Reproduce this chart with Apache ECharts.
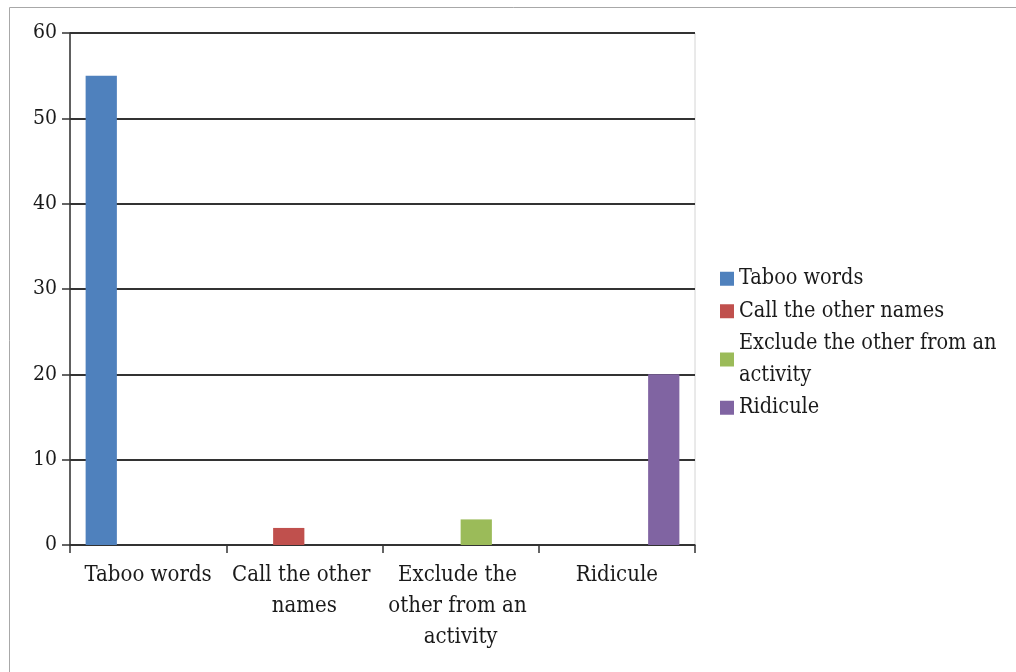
<!DOCTYPE html>
<html>
<head>
<meta charset="utf-8">
<script src="https://cdn.jsdelivr.net/npm/echarts@6/dist/echarts.min.js"></script>
<style>
html,body{margin:0;padding:0;background:#fff;}
#chart{width:1016px;height:672px;}
</style>
</head>
<body>
<div id="chart"></div>
<script>
const categories = ['Taboo words', 'Call the other names', 'Exclude the other from an activity', 'Ridicule'];
const seriesNames = ['Taboo words', 'Call the other names', 'Exclude the other from an activity', 'Ridicule'];
const tabooWords = [55, 0, 0, 0];
const callNames = [0, 2, 0, 0];
const excludeOther = [0, 0, 3, 0];
const ridicule = [0, 0, 0, 20];
const yTicks = [0, 10, 20, 30, 40, 50, 60];
const colors = ['#4F81BD', '#C0504D', '#9BBB59', '#8064A2'];

const FONT = '"DejaVu Serif Condensed", "DejaVu Serif", serif';
const seriesData = [tabooWords, callNames, excludeOther, ridicule];

const chart = echarts.init(document.getElementById('chart'));
chart.setOption({
  animation: false,
  textStyle: {fontFamily: FONT},
  graphic: [{
    type: 'rect',
    shape: {x: 9.5, y: 7.5, width: 1100, height: 800},
    style: {fill: 'none', stroke: '#a8a8a8', lineWidth: 1},
    silent: true
  }],
  grid: {
    left: 70, right: 321, top: 33, bottom: 127,
    show: true, borderColor: '#d4d4d4', borderWidth: 1, backgroundColor: 'transparent'
  },
  legend: {
    orient: 'vertical',
    left: 715,
    top: 258,
    itemWidth: 14,
    itemHeight: 14,
    itemGap: 1,
    icon: 'rect',
    data: seriesNames,
    textStyle: {
      fontFamily: FONT, fontSize: 21.5, color: '#1a1a1a',
      lineHeight: 31.5, width: 300, overflow: 'break'
    }
  },
  xAxis: {
    type: 'category',
    data: categories,
    axisLine: {lineStyle: {color: '#333', width: 1.5}},
    axisTick: {show: true, length: 8, lineStyle: {color: '#333', width: 1.5}},
    axisLabel: {
      fontFamily: FONT, fontSize: 22, color: '#1a1a1a', margin: 15,
      lineHeight: 31, width: 152, overflow: 'break', interval: 0
    }
  },
  yAxis: {
    type: 'value',
    min: yTicks[0], max: yTicks[yTicks.length - 1], interval: 10,
    axisLine: {show: true, lineStyle: {color: '#333', width: 1.5}},
    axisTick: {show: true, length: 8, lineStyle: {color: '#333', width: 1.5}},
    axisLabel: {fontFamily: FONT, fontSize: 21, color: '#1a1a1a', margin: 13},
    splitLine: {lineStyle: {color: '#333', width: 1.8}}
  },
  series: seriesNames.map((name, i) => ({
    name: name,
    type: 'bar',
    data: seriesData[i],
    itemStyle: {color: colors[i]},
    barGap: '0%',
    barCategoryGap: '20%'
  }))
});
</script>
</body>
</html>
